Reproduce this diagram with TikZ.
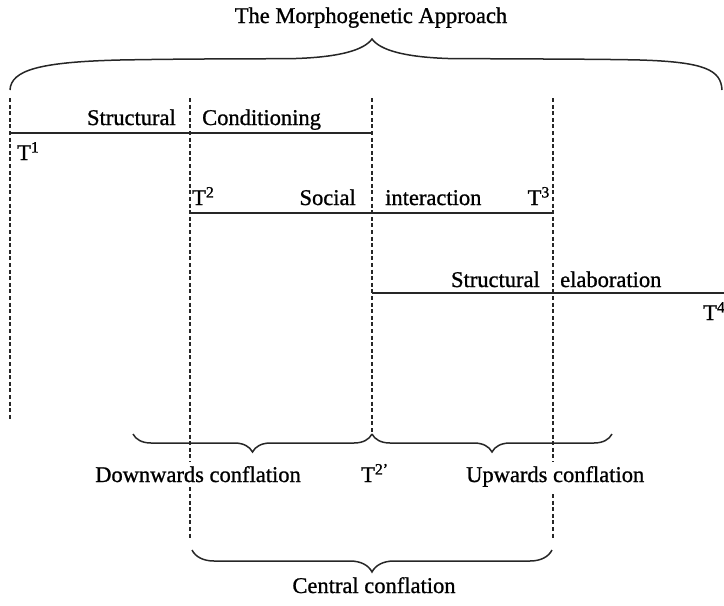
\documentclass[tikz,border=0pt]{standalone}
\usepackage{fontspec}
\setmainfont{Liberation Serif}[RawFeature={embolden=1}]
\usetikzlibrary{decorations.pathreplacing}
\begin{document}
\begin{tikzpicture}[x=1pt,y=-1pt,
  lbl/.style={font=\fontsize{22.5}{27}\selectfont, inner sep=0pt, text=black},
  gaplbl/.style={lbl, fill=white, inner ysep=4pt, inner xsep=1pt},
  vdash/.style={line width=1.3pt, dash pattern=on 4pt off 2.6pt, black!85},
  hline/.style={line width=1.6pt, black!85},
  brc/.style={line width=1.5pt, black!85},
  dbrace/.style={brc, decorate, decoration={brace, mirror, amplitude=#1}},
]
\useasboundingbox (0,0) rectangle (724,606);

% coordinates
\coordinate (d1t) at (10,98);   \coordinate (d1b) at (10,420);
\coordinate (d2t) at (190,98);  \coordinate (d2b) at (190,540);
\coordinate (d3t) at (372,98);  \coordinate (d3b) at (372,434);
\coordinate (d4t) at (553,98);  \coordinate (d4b) at (553,540);

\coordinate (h1a) at (10,133);  \coordinate (h1b) at (372,133);
\coordinate (h2a) at (190,213); \coordinate (h2b) at (553,213);
\coordinate (h3a) at (372,293); \coordinate (h3b) at (724,293);

\coordinate (bl1) at (133,434); \coordinate (bm) at (372,434); \coordinate (br1) at (612,434);
\coordinate (cl) at (192,550);  \coordinate (cr) at (552,550);

% dashed verticals
\draw[vdash] (d1t) -- (d1b);
\draw[vdash] (d2t) -- (d2b);
\draw[vdash] (d3t) -- (d3b);
\draw[vdash] (d4t) -- (d4b);

% horizontal phase lines
\draw[hline] (h1a) -- (h1b);
\draw[hline] (h2a) -- (h2b);
\draw[hline] (h3a) -- (h3b);

% top brace
\draw[brc] (10,90) .. controls (11,70) and (40,62) .. (120,60)
  .. controls (200,58.5) and (270,59) .. (296,58.5)
  .. controls (340,57) and (364,50) .. (372,39)
  .. controls (380,50) and (404,57) .. (448,58.5)
  .. controls (520,59) and (600,59) .. (640,60)
  .. controls (705,62) and (721,70) .. (722,90);

% bottom braces
\draw[dbrace=18] (bl1) -- (bm);
\draw[dbrace=18] (bm) -- (br1);
\draw[dbrace=22] (cl) -- (cr);

% labels
\node[lbl, anchor=base] (title) at (371,23) {The Morphogenetic Approach};

\node[lbl, anchor=base east] (s1) at (176,125) {Structural};
\node[lbl, anchor=base west] (c1) at (202,125) {Conditioning};
\node[lbl, anchor=base west] (t1) at (17,160) {T\textsuperscript{1}};

\node[lbl, anchor=base west] (t2) at (192,205) {T\textsuperscript{2}};
\node[lbl, anchor=base east] (soc) at (356,205) {Social};
\node[lbl, anchor=base west] (inter) at (385,205) {interaction};
\node[lbl, anchor=base east] (t3) at (550,205) {T\textsuperscript{3}};

\node[lbl, anchor=base east] (s3) at (540,287) {Structural};
\node[lbl, anchor=base west] (elab) at (560,287) {elaboration};
\node[lbl, anchor=base west] (t4) at (703,320) {T\textsuperscript{4}};

\node[gaplbl, anchor=base east] (down) at (302,482) {Downwards conflation};
\node[lbl, anchor=base west] (t2p) at (361,482) {T\textsuperscript{2’}};
\node[gaplbl, anchor=base west] (up) at (465,482) {Upwards conflation};

\node[lbl, anchor=base] (central) at (374,593) {Central conflation};
\end{tikzpicture}
\end{document}
